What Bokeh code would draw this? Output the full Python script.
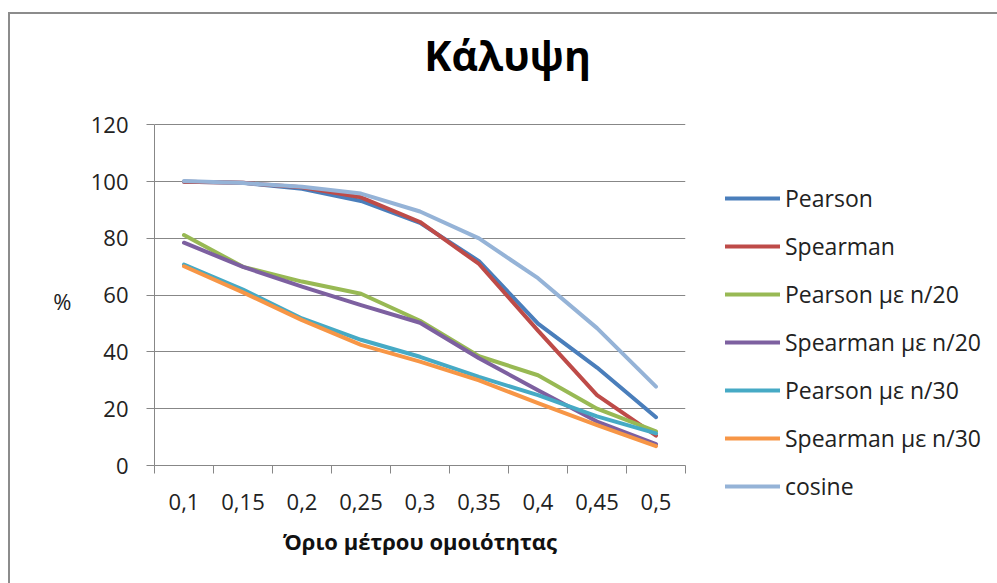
from bokeh.plotting import figure
from bokeh.models import (ColumnDataSource, FixedTicker, Legend, LegendItem, Label,
                          LinearAxis)
from bokeh.embed import file_html
from bokeh.resources import INLINE

# Similarity thresholds (category labels) and coverage (%) per method
thresholds = ["0,1", "0,15", "0,2", "0,25", "0,3", "0,35", "0,4", "0,45", "0,5"]
pearson = [100, 99.6, 97.5, 93.2, 85.5, 72, 50, 34.5, 17]
spearman = [100, 99.6, 98, 94.5, 85.8, 71, 47.5, 24.8, 10.5]
pearson_n20 = [81.2, 70, 64.8, 60.5, 51, 38.5, 31.8, 20, 12]
spearman_n20 = [78.5, 70, 63, 56.5, 50.3, 37.8, 26.5, 15.5, 7.5]
pearson_n30 = [70.8, 62, 51.8, 44.3, 38.3, 31.2, 24.8, 17.3, 11.3]
spearman_n30 = [70.2, 61, 51.2, 42.5, 36.6, 30, 22, 14.2, 6.8]
cosine = [100.2, 99.5, 98.2, 95.8, 89.5, 80, 66, 48.4, 27.8]
y_ticks = [0, 20, 40, 60, 80, 100, 120]

series = [
    ("Pearson", pearson, "#4A7EBB"),
    ("Spearman", spearman, "#BE4B48"),
    ("Pearson με n/20", pearson_n20, "#98B954"),
    ("Spearman με n/20", spearman_n20, "#7D60A0"),
    ("Pearson με n/30", pearson_n30, "#46AAC5"),
    ("Spearman με n/30", spearman_n30, "#F79646"),
    ("cosine", cosine, "#95B3D7"),
]

FONT = "Open Sans"
GRID = "#878787"

# categories sit at the middle of unit-wide slots
xs = [i + 0.5 for i in range(len(thresholds))]

# the frame reaches up to the chart's top edge so the title can sit inside it;
# axis and grid stop at 120
p = figure(frame_width=531, frame_height=451,
           x_range=(0, len(thresholds)), y_range=(0, 158.9),
           output_backend="svg", toolbar_location=None,
           min_border_left=144, min_border_right=330,
           min_border_top=0, min_border_bottom=118)
p.margin = (12, 0, 0, 8)
p.styles = {"border-left": "2px solid #8c8c8c", "border-top": "2px solid #8c8c8c"}
p.background_fill_color = "white"
p.border_fill_color = "white"
p.outline_line_color = None

# x axis: labels under categories, tick marks between them
p.xaxis.ticker = FixedTicker(ticks=xs, minor_ticks=list(range(len(thresholds) + 1)))
p.xaxis.major_label_overrides = {x: t for x, t in zip(xs, thresholds)}
p.xaxis.major_tick_out = 0
p.xaxis.major_tick_in = 0
p.xaxis.minor_tick_out = 8
p.xaxis.minor_tick_in = 0
p.xaxis.minor_tick_line_color = GRID
p.xaxis.axis_line_color = GRID
p.xaxis.major_label_standoff = 20
p.xaxis.major_label_text_font = FONT
p.xaxis.major_label_text_font_size = "22px"
p.xaxis.major_label_text_color = "#222222"
p.xaxis.axis_label = "Όριο μέτρου ομοιότητας"
p.xaxis.axis_label_text_font = FONT
p.xaxis.axis_label_text_font_style = "bold"
p.xaxis.axis_label_text_font_size = "22px"
p.xaxis.axis_label_text_color = "#111111"
p.xaxis.axis_label_standoff = 13

p.yaxis.ticker = FixedTicker(ticks=y_ticks)
p.yaxis.bounds = (0, 120)
p.yaxis.minor_tick_line_color = None
p.yaxis.major_tick_out = 8
p.yaxis.major_tick_in = 0
p.yaxis.major_tick_line_color = GRID
p.yaxis.axis_line_color = GRID
p.yaxis.major_label_standoff = 18
p.yaxis.major_label_text_font = FONT
p.yaxis.major_label_text_font_size = "22px"
p.yaxis.major_label_text_color = "#222222"

# unit label beside the value axis, level with 60
unit_axis = LinearAxis(ticker=FixedTicker(ticks=[58]),
                       major_label_overrides={58: "%"},
                       axis_line_color=None, major_tick_line_color=None,
                       minor_tick_line_color=None, major_label_standoff=10,
                       major_label_text_font=FONT,
                       major_label_text_font_size="22px",
                       major_label_text_color="#222222")
p.add_layout(unit_axis, "left")

p.xgrid.grid_line_color = None
p.ygrid.ticker = FixedTicker(ticks=y_ticks)
p.ygrid.grid_line_color = GRID
p.ygrid.grid_line_width = 1

items = []
for name, vals, color in series:
    src = ColumnDataSource(dict(x=xs, y=vals))
    r = p.line("x", "y", source=src, line_color=color, line_width=4,
               line_join="round", line_cap="round")
    items.append(LegendItem(label=name, renderers=[r]))

legend = Legend(items=items, location=(40, -37), orientation="vertical",
                glyph_width=55, glyph_height=20, label_height=20, spacing=16,
                label_standoff=5, padding=0, margin=0,
                border_line_color=None, background_fill_alpha=0,
                label_text_font=FONT, label_text_font_size="23px",
                label_text_color="#222222")
p.add_layout(legend, "right")

# chart title
p.add_layout(Label(x=5.983, y=144.5, text="Κάλυψη", text_align="center",
                   text_baseline="alphabetic", text_font=FONT,
                   text_font_style="bold", text_font_size="41px",
                   text_color="#000000"))

open("out.html", "w").write(file_html(p, INLINE))
